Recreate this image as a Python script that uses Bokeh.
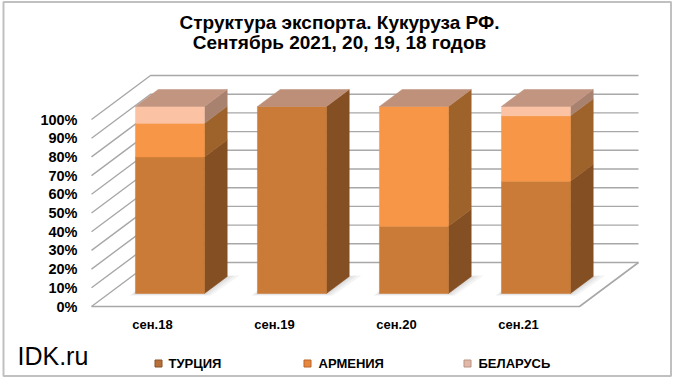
from bokeh.plotting import figure
from bokeh.models import Range1d
from bokeh.embed import file_html
from bokeh.resources import INLINE
from bokeh.core.properties import value

# ---------------- data ----------------
categories = ["сен.18", "сен.19", "сен.20", "сен.21"]
series_names = ["ТУРЦИЯ", "АРМЕНИЯ", "БЕЛАРУСЬ"]
turkey = [73, 100, 36, 60]
armenia = [18, 0, 64, 35]
belarus = [9, 0, 0, 5]
ticks = [0, 10, 20, 30, 40, 50, 60, 70, 80, 90, 100]
tick_labels = [f"{t}%" for t in ticks]
title_lines = ["Структура экспорта. Кукуруза РФ.", "Сентябрь 2021, 20, 19, 18 годов"]
brand = "IDK.ru"

series_values = [turkey, armenia, belarus]
front_colors = ["#C97B37", "#F79646", "#FBC3A4"]
side_colors = ["#844F23", "#9E622B", "#A8826F"]
top_colors = ["#BD8F79", "#BF917B", "#C29581"]
legend_colors = ["#B8703A", "#E8883F", "#E2B8A8"]
legend_border = ["#8A5024", "#B8642A", "#B89484"]

FONT = "Liberation Sans"

# ---------------- layout / projection ----------------
W, H = 672, 377
ORIGIN = 0                  # page offset of the figure's top-left corner
PX0, PXU = 152.0, 122.0     # page x of category 0 (front floor), px per category
PY0, PYU = 306.0, 1.87      # page y of 0% (front floor), px per percent


def X(px):
    return (px - PX0) / PXU


def Y(py):
    return (PY0 - py) / PYU


DXU = 59.0 / PXU      # full depth offset in x (category units)
DYU = 44.0 / PYU      # full depth offset in y (percent units)
D_FRONT = 13.0 / 44.0
D_BACK = 30.0 / 44.0
BAR_W = 69.0 / PXU
n = len(categories)
XL, XR = -0.5, n - 0.5

p = figure(width=W, height=H,
           x_range=Range1d(X(ORIGIN), X(ORIGIN + W)),
           y_range=Range1d(Y(ORIGIN + H), Y(ORIGIN)),
           output_backend="svg", toolbar_location=None,
           x_axis_location=None, y_axis_location=None,
           min_border=0, background_fill_color="white")
p.grid.visible = False
p.outline_line_color = None

# chart border
p.quad(left=[X(3)], right=[X(670.5)], top=[Y(1.5)], bottom=[Y(375.5)],
       fill_color=None, line_color="#c0c0c0", line_width=2)

GRID = "#a8a8a8"

# side wall diagonals + back wall horizontal gridlines
for t in ticks:
    p.line([XL, XL + DXU, XR + DXU], [t, t + DYU, t + DYU],
           line_color=GRID, line_width=1.4)
# floor front & right edges
p.line([XL, XR, XR + DXU], [0, 0, DYU], line_color=GRID, line_width=1.6)

# tick labels
p.text(x=[X(77)] * len(ticks), y=ticks, text=tick_labels,
       text_font=value(FONT), text_font_style="bold", text_font_size="14.5px",
       text_align="right", text_baseline="middle", text_color="#000000")

# category labels
p.text(x=list(range(n)), y=[Y(323.5)] * n, text=categories,
       text_font=value(FONT), text_font_style="bold", text_font_size="13px",
       text_align="center", text_baseline="middle", text_color="#000000")

fx, fy = D_FRONT * DXU, D_FRONT * DYU
bx, by = D_BACK * DXU, D_BACK * DYU

# soft shadows
for i in range(n):
    xl, xr = i - BAR_W / 2, i + BAR_W / 2
    for e in [0.05, 0.032, 0.016]:
        ey = e * 40
        p.patch([xl + fx - e, xr + fx + e, xr + bx + e * 2, xl + bx - e],
                [fy - ey * 0.6, fy - ey * 0.6, by + ey * 0.3, by + ey * 0.3],
                fill_color="#606060", fill_alpha=0.07, line_color=None)

# bars
for i in range(n):
    xl, xr = i - BAR_W / 2, i + BAR_W / 2
    bottom = 0.0
    top_series = max(s for s in range(len(series_values)) if series_values[s][i] > 0)
    for s, vals in enumerate(series_values):
        v = vals[i]
        if v <= 0:
            continue
        b, t = bottom, bottom + v
        # side face
        p.patch([xr + fx, xr + bx, xr + bx, xr + fx],
                [b + fy, b + by, t + by, t + fy],
                fill_color=side_colors[s], line_color=side_colors[s], line_width=0.5)
        # front face
        p.quad(left=[xl + fx], right=[xr + fx], bottom=[b + fy], top=[t + fy],
               fill_color=front_colors[s], line_color=front_colors[s], line_width=0.5)
        if s == top_series:
            p.patch([xl + fx, xr + fx, xr + bx, xl + bx],
                    [t + fy, t + fy, t + by, t + by],
                    fill_color=top_colors[s], line_color=top_colors[s], line_width=0.5)
        bottom = t

# title
p.text(x=[X(339), X(339)], y=[Y(21.7), Y(42.0)], text=title_lines,
       text_font=value(FONT), text_font_style="bold", text_font_size="19px",
       text_align="center", text_baseline="middle", text_color="#000000")

# brand
p.text(x=[X(17)], y=[Y(355)], text=[brand],
       text_font=value(FONT), text_font_size="25px",
       text_align="left", text_baseline="middle", text_color="#000000")

# legend
leg_marker_px = [158, 307, 467]
leg_text_px = [168, 318, 478]
p.scatter(x=[X(v) for v in leg_marker_px], y=[Y(363)] * 3, marker="square", size=7,
          fill_color=legend_colors, line_color=legend_border, line_width=1)
p.text(x=[X(v) for v in leg_text_px], y=[Y(363)] * 3, text=series_names,
       text_font=value(FONT), text_font_style="bold", text_font_size="13px",
       text_align="left", text_baseline="middle", text_color="#000000")

open("out.html", "w").write(file_html(p, INLINE))
